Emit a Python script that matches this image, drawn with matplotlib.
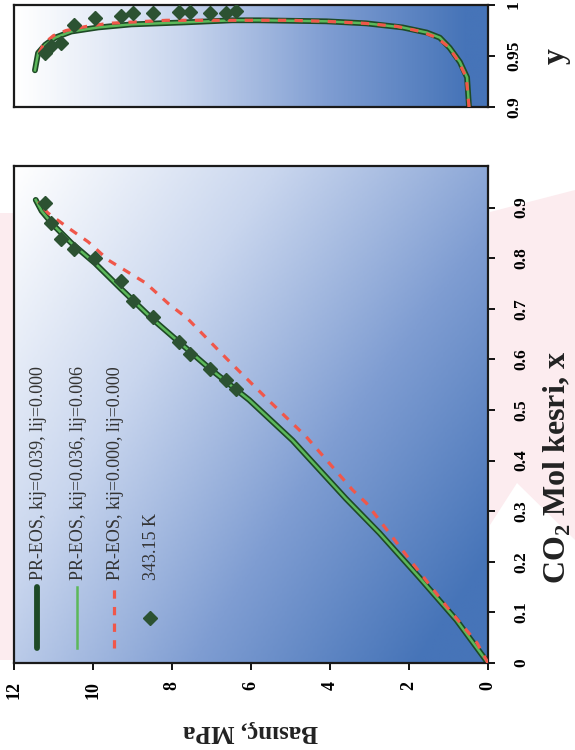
import numpy as np
import matplotlib
matplotlib.use("Agg")
import matplotlib.pyplot as plt
from matplotlib.colors import LinearSegmentedColormap
from matplotlib.patches import Polygon

plt.rcParams["font.family"] = ["Liberation Serif", "DejaVu Serif"]
plt.rcParams["mathtext.fontset"] = "custom"
plt.rcParams["mathtext.rm"] = "Liberation Serif:bold"
plt.rcParams["mathtext.bf"] = "Liberation Serif:bold"

# liquid phase, PR-EOS kij=0.039 lij=0.000 (pressure MPa, CO2 mole fraction x)
p_liq1 = [0.00, 0.80, 1.75, 2.75, 3.60, 4.95, 6.05, 7.05, 7.85, 8.50, 9.30, 9.95, 10.55, 11.00, 11.30, 11.45]
x_liq1 = [0.000, 0.085, 0.170, 0.257, 0.325, 0.440, 0.520, 0.582, 0.636, 0.680, 0.740, 0.790, 0.830, 0.865, 0.893, 0.915]
# PR-EOS kij=0.036 lij=0.006
p_liq2 = [0.00, 0.80, 1.75, 2.75, 3.60, 4.95, 6.05, 7.05, 7.85, 8.50, 9.30, 9.95, 10.55, 11.00, 11.30, 11.45]
x_liq2 = [0.000, 0.085, 0.170, 0.257, 0.325, 0.440, 0.520, 0.582, 0.636, 0.680, 0.740, 0.790, 0.830, 0.865, 0.893, 0.915]
# PR-EOS kij=0 lij=0
p_liq3 = [0.00, 0.28, 1.04, 1.98, 3.08, 3.43, 4.60, 5.62, 6.60, 7.60, 8.09, 8.67, 9.61, 10.12, 10.63, 11.14, 11.39]
x_liq3 = [0.000, 0.040, 0.111, 0.204, 0.316, 0.342, 0.447, 0.524, 0.600, 0.680, 0.710, 0.751, 0.796, 0.832, 0.860, 0.889, 0.911]

# vapour phase (y)
p_vap1 = [0.48, 0.53, 0.71, 0.97, 1.22, 1.55, 2.16, 3.08, 4.09, 5.80, 6.48, 7.65, 9.03, 9.87, 10.55, 10.96, 11.21, 11.39, 11.47]
y_vap1 = [0.900, 0.929, 0.944, 0.958, 0.968, 0.973, 0.978, 0.982, 0.984, 0.985, 0.985, 0.983, 0.981, 0.978, 0.974, 0.968, 0.961, 0.953, 0.936]
p_vap2 = [0.48, 0.53, 0.71, 0.97, 1.22, 1.55, 2.16, 3.08, 4.09, 5.80, 6.48, 7.65, 9.03, 9.87, 10.55, 10.96, 11.21, 11.39, 11.47]
y_vap2 = [0.900, 0.929, 0.944, 0.958, 0.968, 0.973, 0.978, 0.982, 0.984, 0.985, 0.985, 0.983, 0.981, 0.978, 0.974, 0.968, 0.961, 0.953, 0.936]
p_vap3 = [0.48, 0.55, 0.75, 1.00, 1.30, 1.70, 2.30, 3.10, 4.10, 5.00, 6.00, 6.64, 7.12, 7.65, 8.14, 8.64, 9.15, 9.61, 10.17, 10.68, 11.00, 11.25, 11.42]
y_vap3 = [0.900, 0.929, 0.945, 0.959, 0.968, 0.974, 0.979, 0.982, 0.984, 0.985, 0.985, 0.985, 0.985, 0.985, 0.985, 0.984, 0.983, 0.982, 0.979, 0.975, 0.970, 0.962, 0.948]

# experimental, 343.15 K
p_exp = [11.21, 11.06, 10.81, 10.48, 9.94, 9.28, 8.98, 8.47, 7.83, 7.55, 7.04, 6.64, 6.38]
x_exp = [0.909, 0.870, 0.838, 0.818, 0.800, 0.755, 0.715, 0.684, 0.634, 0.611, 0.581, 0.559, 0.542]
y_exp = [0.953, 0.960, 0.963, 0.980, 0.987, 0.989, 0.992, 0.992, 0.993, 0.993, 0.992, 0.992, 0.994]

labels = ["PR-EOS, kij=0.039, lij=0.000", "PR-EOS, kij=0.036, lij=0.006",
          "PR-EOS, kij=0.000, lij=0.000", "343.15 K"]

dark_green = "#1e4a26"
light_green = "#5cb85a"
red = "#f0574a"
marker_c = "#2c5232"
dash = (2.6, 2.6)

W, H = 575, 750
fig = plt.figure(figsize=(5.75, 7.5), dpi=100)

# faint pink watermark behind the page
def px(pts):
    return [(x / W, 1 - y / H) for x, y in pts]

for shape in [[(490, 212), (575, 190), (575, 540), (517, 483), (490, 525)],
              [(0, 213), (14, 213), (14, 660), (0, 660)]]:
    fig.patches.append(Polygon(px(shape), closed=True, transform=fig.transFigure,
                               facecolor="#fcecef", edgecolor="none", zorder=-1))

ax = fig.add_axes([14 / W, 1 - 663 / H, 474 / W, 497 / H])
ax2 = fig.add_axes([14 / W, 1 - 107 / H, 474 / W, 102 / H])

cmap = LinearSegmentedColormap.from_list("bg", ["#ffffff", "#c9d6ee", "#7f9dd2", "#4674b8"])
u = np.linspace(0, 1, 200)[None, :]
v = np.linspace(0, 1, 200)[:, None]
grad_main = np.clip(0.6 * u + 0.4 * v + 0.1 * u * v, 0, 1)
ax.imshow(grad_main, extent=[0, 1, 0, 1], transform=ax.transAxes, cmap=cmap,
          aspect="auto", zorder=0, origin="upper", vmin=0, vmax=1)
grad_small = np.clip(u ** 1.1 * 1.05 + 0 * v, 0, 1)
ax2.imshow(grad_small, extent=[0, 1, 0, 1], transform=ax2.transAxes, cmap=cmap,
           aspect="auto", zorder=0, origin="upper", vmin=0, vmax=1)

for a, (pa, xa), (pb, xb), (pc, xc), ye in [
        (ax, (p_liq1, x_liq1), (p_liq2, x_liq2), (p_liq3, x_liq3), x_exp),
        (ax2, (p_vap1, y_vap1), (p_vap2, y_vap2), (p_vap3, y_vap3), y_exp)]:
    a.plot(pa, xa, color=dark_green, lw=4.2, solid_capstyle="round", zorder=2)
    a.plot(pb, xb, color=light_green, lw=1.8, zorder=3)
    a.plot(pc, xc, color=red, lw=2.3, dashes=dash, zorder=4)
    a.plot(p_exp, ye, ls="none", marker="D", ms=7.5, color=marker_c, zorder=5)

ax.set_xlim(12, 0)
ax.set_ylim(0, 0.982)
ax2.set_xlim(12, 0)
ax2.set_ylim(0.9, 1.0)

for a in (ax, ax2):
    for s in a.spines.values():
        s.set_linewidth(1.6)
        s.set_color("#1a1a1a")

ax.set_xticks(np.arange(0, 13, 2))
ax.tick_params(axis="x", direction="out", length=5, width=1.3, labelsize=13,
               labelrotation=90, pad=8)
ax.set_yticks(np.arange(0, 0.95, 0.1))
ax.set_yticklabels(["0"] + ["%.1f" % t for t in np.arange(0.1, 0.95, 0.1)])
ax.yaxis.tick_right()
ax.tick_params(axis="y", direction="out", length=5, width=1.3, labelsize=12.5, pad=13)
for t in ax.get_xticklabels() + ax.get_yticklabels():
    t.set_fontweight("bold")
for t in ax.get_yticklabels():
    t.set_rotation(90)
    t.set_va("center")

ax2.set_xticks([])
ax2.set_yticks([0.9, 0.95, 1.0])
ax2.set_yticklabels(["0.9", "0.95", "1"])
ax2.yaxis.tick_right()
ax2.tick_params(axis="y", direction="out", length=5, width=1.3, labelsize=12.5, pad=8)
for t in ax2.get_yticklabels():
    t.set_fontweight("bold")
    t.set_rotation(90)
    t.set_va("center")

# legend drawn vertically to follow the page orientation
lx = [0.0485, 0.133, 0.211, 0.287]
ax.plot([lx[0], lx[0]], [0.030, 0.153], transform=ax.transAxes, color=dark_green, lw=4.2,
        solid_capstyle="round", zorder=6)
ax.plot([lx[1], lx[1]], [0.030, 0.153], transform=ax.transAxes, color=light_green, lw=1.8, zorder=6)
ax.plot([lx[2], lx[2]], [0.030, 0.153], transform=ax.transAxes, color=red, lw=2.3,
        dashes=dash, zorder=6)
ax.plot([lx[3]], [0.0905], transform=ax.transAxes, ls="none", marker="D", ms=7.5,
        color=marker_c, zorder=6)
for xl, lab in zip(lx, labels):
    ax.text(xl + 0.003, 0.167, lab, transform=ax.transAxes, rotation=90, ha="center",
            va="bottom", fontsize=13, color="#333333", zorder=6)

fig.text(251 / W, 1 - 731 / H, "Basınç, MPa", rotation=180, ha="center", va="center",
         fontsize=18, fontweight="bold", color="#222222")
fig.text(557 / W, 1 - 468 / H, "CO$_2$ Mol kesri, x", rotation=90, ha="center", va="center",
         fontsize=23, fontweight="bold", color="#222222")
fig.text(556 / W, 1 - 56 / H, "y", rotation=90, ha="center", va="center",
         fontsize=23, fontweight="bold", color="#222222")

fig.savefig("out.png", dpi=100)
